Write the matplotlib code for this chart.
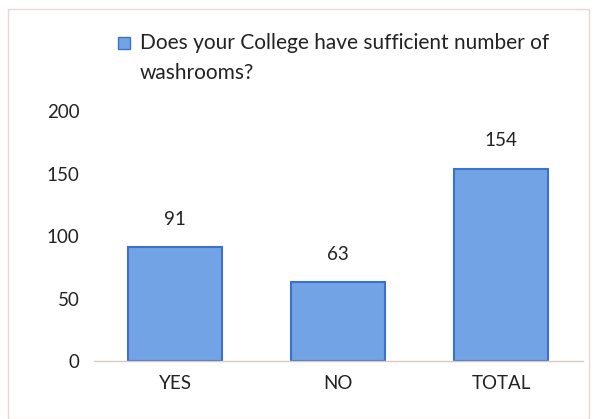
import matplotlib
matplotlib.use("Agg")
import matplotlib.pyplot as plt
from matplotlib.patches import Rectangle

categories = ["YES", "NO", "TOTAL"]
values = [91, 63, 154]
yticks = [0, 50, 100, 150, 200]
series_name = "Does your College have sufficient number of\nwashrooms?"

plt.rcParams['font.family'] = ['Lato', 'DejaVu Sans']

bar_face = "#72a3e4"
bar_edge = "#3d72cc"

fig = plt.figure(figsize=(5.97, 4.19), dpi=100)
W, H = 597, 419
ax = fig.add_axes([93.5 / W, 1 - 361 / H, 489 / W, 250 / H])

x = list(range(len(categories)))
bars = ax.bar(x, values, width=0.58, color=bar_face, edgecolor=bar_edge, linewidth=1.5,
              label=series_name)
for xi, v in zip(x, values):
    ax.annotate(str(v), (xi, v), xytext=(0, 20), textcoords="offset points",
                ha="center", va="center", fontsize=13.5, color="#222222")

ax.set_xlim(-0.5, 2.5)
ax.set_ylim(0, 200)
ax.set_yticks(yticks)
ax.set_xticks(x)
ax.set_xticklabels(categories)
ax.tick_params(axis="both", length=0, labelsize=13.5, colors="#222222")
ax.tick_params(axis="y", pad=10)
ax.tick_params(axis="x", pad=10)
for s in ["top", "right", "left"]:
    ax.spines[s].set_visible(False)
ax.spines["bottom"].set_color("#d9c9c0")
ax.spines["bottom"].set_linewidth(1)

# legend (key aligned with first line, as in the original)
fig.add_artist(Rectangle((118 / W, 1 - 49 / H), 12 / W, 12 / H, transform=fig.transFigure,
                         facecolor=bar_face, edgecolor=bar_edge, linewidth=1))
fig.text(140 / W, 1 - 33 / H, series_name, ha="left", va="top", fontsize=15,
         linespacing=1.6, color="#222222")

# faint scanned border
fig.add_artist(Rectangle((8 / W, 0), 1 - 16 / W, 1 - 9 / H, transform=fig.transFigure,
                         fill=False, edgecolor="#e6d8d2", linewidth=1))

fig.savefig("out.png", dpi=100)
